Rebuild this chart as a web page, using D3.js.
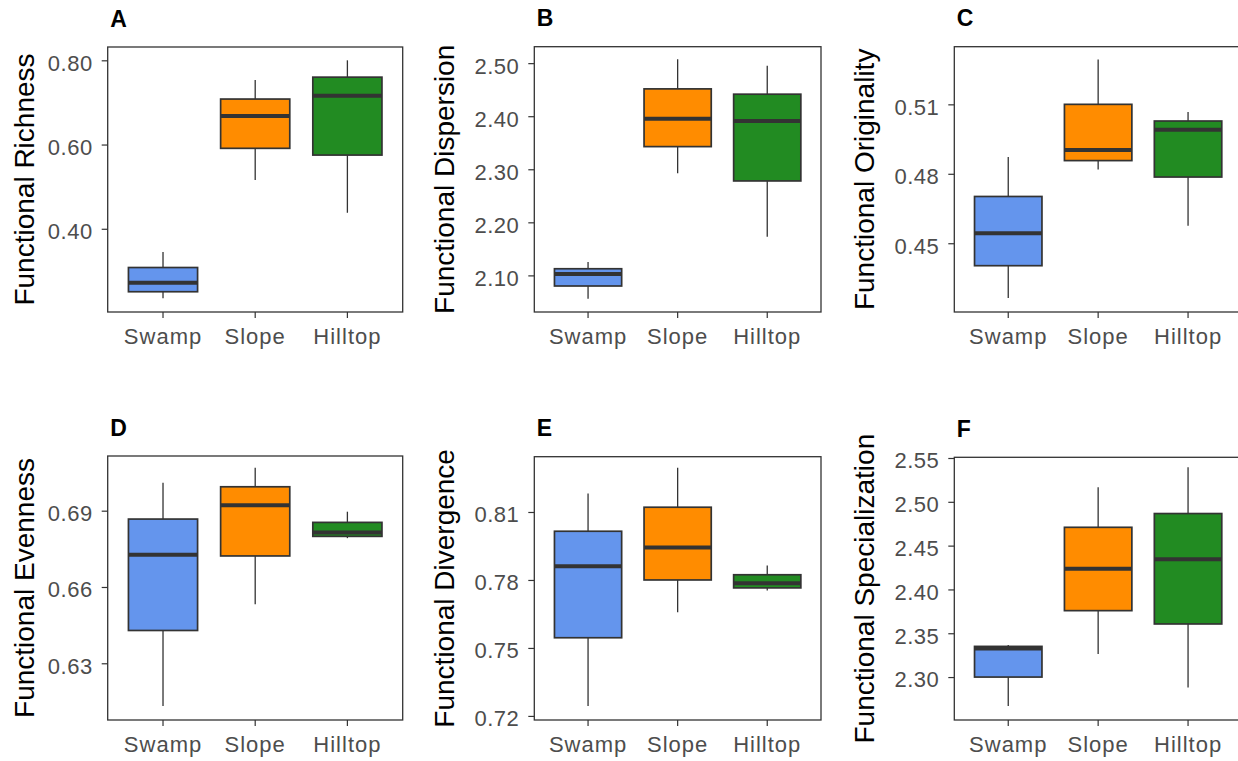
<!DOCTYPE html>
<html>
<head>
<meta charset="utf-8">
<script src="https://cdn.jsdelivr.net/npm/d3@7/dist/d3.min.js"></script>
<style>
  html, body { margin: 0; padding: 0; background: #ffffff; }
  svg { display: block; }
</style>
</head>
<body>
<div id="chart"></div>
<script>
// ---------------- DATA ----------------
const categories = ["Swamp", "Slope", "Hilltop"];
const panelLabels = ["A", "B", "C", "D", "E", "F"];
const metricNames = [
  "Functional Richness", "Functional Dispersion", "Functional Originality",
  "Functional Evenness", "Functional Divergence", "Functional Specialization"
];
// box stats per category: [min whisker, Q1, median, Q3, max whisker]
const richness = [
  [0.235, 0.2505, 0.272, 0.308, 0.345],
  [0.516, 0.591, 0.668, 0.708, 0.753],
  [0.438, 0.575, 0.716, 0.760, 0.800]
];
const dispersion = [
  [2.056, 2.080, 2.1025, 2.1125, 2.125],
  [2.2925, 2.3427, 2.395, 2.4515, 2.5075],
  [2.173, 2.278, 2.391, 2.4415, 2.495]
];
const originality = [
  [0.4263, 0.4403, 0.4543, 0.4702, 0.4873],
  [0.4819, 0.4857, 0.4903, 0.5100, 0.5294],
  [0.4576, 0.4786, 0.4990, 0.5028, 0.5067]
];
const evenness = [
  [0.6132, 0.6429, 0.6727, 0.6867, 0.7010],
  [0.6532, 0.6722, 0.6921, 0.6994, 0.7069],
  [0.6792, 0.6799, 0.6814, 0.6854, 0.6896]
];
const divergence = [
  [0.7244, 0.7545, 0.7860, 0.8015, 0.8182],
  [0.7657, 0.7800, 0.7943, 0.8121, 0.8295],
  [0.7754, 0.7765, 0.7785, 0.7823, 0.7864]
];
const specialization = [
  [2.2669, 2.3000, 2.3327, 2.3350, 2.3366],
  [2.3264, 2.3758, 2.4236, 2.4709, 2.5167],
  [2.2882, 2.3606, 2.4344, 2.4866, 2.5395]
];
const panelStats = [richness, dispersion, originality, evenness, divergence, specialization];
const yDomains = [
  [0.2024, 0.8316], [2.031, 2.531], [0.4203, 0.5349],
  [0.6077, 0.7115], [0.7182, 0.8344], [2.251, 2.5508]
];
const yTicks = [
  [0.40, 0.60, 0.80],
  [2.10, 2.20, 2.30, 2.40, 2.50],
  [0.45, 0.48, 0.51],
  [0.63, 0.66, 0.69],
  [0.72, 0.75, 0.78, 0.81],
  [2.30, 2.35, 2.40, 2.45, 2.50, 2.55]
];

// ---------------- LAYOUT / STYLE ----------------
const W = 1238, H = 761;
const layout = [
  { left: 107.7, right: 402.7, top: 47,    bottom: 312, titleX: 34 },
  { left: 534.3, right: 821,   top: 46.7,  bottom: 312, titleX: 454 },
  { left: 954.3, right: 1242,  top: 46.7,  bottom: 312, titleX: 874 },
  { left: 107.7, right: 402.7, top: 456,   bottom: 720, titleX: 34 },
  { left: 534.3, right: 821,   top: 456.7, bottom: 720, titleX: 454 },
  { left: 954.3, right: 1242,  top: 457.3, bottom: 720, titleX: 874 }
];
const fills = ["#6495ED", "#FF8C00", "#228B22"];
const dark = "#333333";
const font = "'Liberation Sans', Arial, Helvetica, sans-serif";

const svg = d3.select("#chart").append("svg")
  .attr("width", W).attr("height", H)
  .style("background", "#ffffff");

layout.forEach((L, p) => {
  const g = svg.append("g");
  const x = d3.scaleBand()
    .domain(categories)
    .range([L.left, L.right])
    .paddingInner(0.25)
    .paddingOuter(0.225);
  const y = d3.scaleLinear().domain(yDomains[p]).range([L.bottom, L.top]);

  // Y axis
  const yAx = g.append("g")
    .attr("transform", `translate(${L.left},0)`)
    .call(d3.axisLeft(y).tickValues(yTicks[p]).tickFormat(d3.format(".2f")).tickSize(6).tickPadding(9));
  yAx.select(".domain").remove();
  yAx.selectAll(".tick line").attr("stroke", dark).attr("stroke-width", 1.2);
  yAx.selectAll(".tick text")
    .attr("dy", "0.45em")
    .attr("fill", "#4D4D4D")
    .style("font-family", font)
    .style("font-size", "22px")
    .style("letter-spacing", "0.5px");

  // X axis
  const xAx = g.append("g")
    .attr("transform", `translate(0,${L.bottom})`)
    .call(d3.axisBottom(x).tickSize(6).tickPadding(10));
  xAx.select(".domain").remove();
  xAx.selectAll(".tick line").attr("stroke", dark).attr("stroke-width", 1.2);
  xAx.selectAll(".tick text")
    .attr("dy", "0.71em")
    .attr("fill", "#4D4D4D")
    .style("font-family", font)
    .style("font-size", "22px")
    .style("letter-spacing", "1px");

  // Boxes
  const stats = panelStats[p];
  const boxes = g.selectAll("g.box").data(categories).join("g").attr("class", "box");
  boxes.each(function (cat, i) {
    const s = stats[i];
    const bx = x(cat), bw = x.bandwidth(), cx = bx + bw / 2;
    const b = d3.select(this);
    b.append("line").attr("x1", cx).attr("x2", cx).attr("y1", y(s[4])).attr("y2", y(s[3]))
      .attr("stroke", dark).attr("stroke-width", 1.3);
    b.append("line").attr("x1", cx).attr("x2", cx).attr("y1", y(s[1])).attr("y2", y(s[0]))
      .attr("stroke", dark).attr("stroke-width", 1.3);
    b.append("rect").attr("x", bx).attr("width", bw)
      .attr("y", y(s[3])).attr("height", y(s[1]) - y(s[3]))
      .attr("fill", fills[i]).attr("stroke", dark).attr("stroke-width", 1.7);
    b.append("line").attr("x1", bx).attr("x2", bx + bw).attr("y1", y(s[2])).attr("y2", y(s[2]))
      .attr("stroke", dark).attr("stroke-width", 4);
  });

  // Panel border
  g.append("rect")
    .attr("x", L.left).attr("y", L.top)
    .attr("width", L.right - L.left).attr("height", L.bottom - L.top)
    .attr("fill", "none").attr("stroke", dark).attr("stroke-width", 1.3);

  // Y title
  g.append("text")
    .attr("transform", `translate(${L.titleX},${(L.top + L.bottom) / 2}) rotate(-90)`)
    .attr("text-anchor", "middle")
    .attr("fill", "#000")
    .style("font-family", font)
    .style("font-size", "28px")
    .text(metricNames[p]);

  // Panel label
  g.append("text")
    .attr("x", L.left + 2.5)
    .attr("y", L.top - 20.5)
    .attr("fill", "#000")
    .style("font-family", font)
    .style("font-size", "23px")
    .style("font-weight", "bold")
    .text(panelLabels[p]);
});
</script>
</body>
</html>
